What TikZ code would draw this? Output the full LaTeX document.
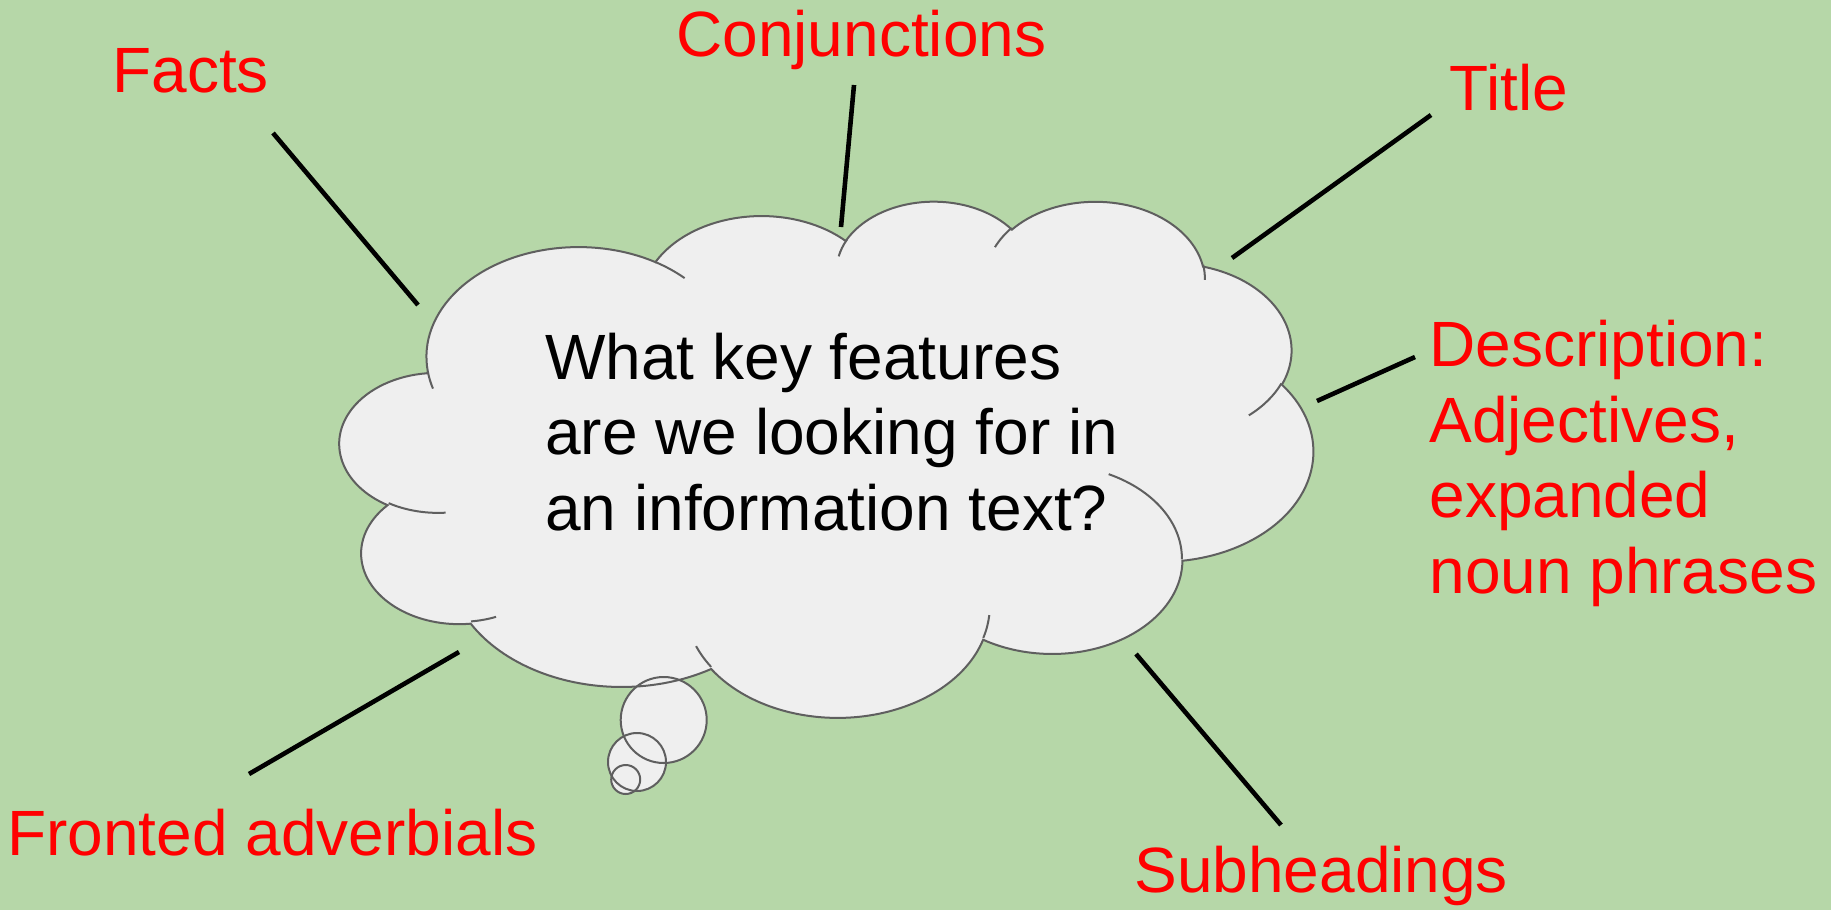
\documentclass[tikz,border=0pt]{standalone}
\usepackage{fontspec}
\setmainfont{Liberation Sans}
\definecolor{slidegreen}{HTML}{B6D7A8}
\definecolor{cloudgray}{HTML}{EFEFEF}
\definecolor{cloudedge}{HTML}{5F5F5F}
\definecolor{labelred}{HTML}{FF0000}

\begin{document}
\begin{tikzpicture}[x=0.5pt,y=-0.5pt]

  \tikzstyle{label text}=[text=labelred,inner sep=0pt,anchor=base west,align=left,
                          font=\fontsize{32}{37.75}\selectfont]
  \tikzstyle{question}=[label text,text=black]
  \tikzstyle{spoke}=[line width=2.3pt,black]
  \tikzstyle{cloud fill}=[fill=cloudgray]
  \tikzstyle{cloud edge}=[draw=cloudedge,line width=1pt]

  \useasboundingbox (0,0) rectangle (1831,910);
  \fill[slidegreen] (0,0) rectangle (1831,910);

  % outline of the cloud, lobe by lobe
  \def\cloudline{}
  \foreach \wr/\hr/\st/\sw in {6.753/9.190/-190.4875/123.7805,
      5.333/7.267/-144.1024/89.9452, 4.365/5.945/-145.8079/99.7230,
      4.857/6.595/-130.9861/117.2417, 5.333/7.273/-78.7089/109.0269,
      6.775/9.220/-46.2673/130.2690, 5.785/7.867/0.6250/114.0333,
      6.752/9.215/22.4516/115.1726, 7.720/10.543/66.2426/75.7110,
      4.360/5.918/-274.9421/146.7356, 4.345/5.945/-246.8285/152.5189}{
    \pgfmathsetmacro\anga{atan2(\wr*sin(\st),\hr*cos(\st))}
    \pgfmathsetmacro\angb{atan2(\wr*sin(\st+\sw),\hr*cos(\st+\sw))}
    \pgfmathsetmacro\swp{\angb-\anga-\sw}
    \pgfmathsetmacro\swp{\sw+\swp-360*round(\swp/360)}
    \xdef\cloudline{\cloudline arc[x radius=\wr,y radius=\hr,start angle=\anga,delta angle=\swp]}
  }

  % little inner arcs where the lobes meet
  \def\seamline{}
  \foreach \px/\py/\wr/\hr/\st/\sw in {4.693/26.177/4.345/5.945/86.7420/26.4295,
      6.928/34.899/4.360/5.918/73.6105/11.4475, 16.478/39.090/6.752/9.215/137.6242/14.0811,
      28.827/34.751/6.752/9.215/6.4533/15.9984, 34.129/22.954/5.785/7.867/-70.2924/70.9174,
      41.798/15.354/5.333/7.273/30.3180/27.7515, 38.324/5.426/4.857/6.595/-13.7443/14.8589,
      29.078/3.952/4.857/6.595/-149.1815/18.1954, 22.141/4.720/4.365/5.945/-163.4943/17.6864,
      14.000/5.192/6.753/9.190/-66.7070/12.3194, 4.127/15.789/6.753/9.190/157.6544/11.8582}{
    \pgfmathsetmacro\anga{atan2(\wr*sin(\st),\hr*cos(\st))}
    \pgfmathsetmacro\angb{atan2(\wr*sin(\st+\sw),\hr*cos(\st+\sw))}
    \pgfmathsetmacro\swp{\angb-\anga-\sw}
    \pgfmathsetmacro\swp{\sw+\swp-360*round(\swp/360)}
    \xdef\seamline{\seamline (\px,\py) arc[x radius=\wr,y radius=\hr,start angle=\anga,delta angle=\swp]}
  }

  % fill everything first, then stroke, so all outlines show
  \begin{scope}[shift={(340,200)},x=11.2616pt,y=-5.9722pt]
    \path[cloud fill] (3.9,14.37) \cloudline -- cycle;
  \end{scope}
  \path[cloud fill] (663.7,720) circle[radius=43];
  \path[cloud fill] (637,762) circle[radius=29];
  \path[cloud fill] (625.7,779.5) circle[radius=14.5];

  \begin{scope}[shift={(340,200)},x=11.2616pt,y=-5.9722pt]
    \path[cloud edge] (3.9,14.37) \cloudline -- cycle;
    \path[cloud edge] \seamline;
  \end{scope}

  % thought bubbles
  \path[cloud edge] (663.7,720) circle[radius=43];
  \path[cloud edge] (637,762) circle[radius=29];
  \path[cloud edge] (625.7,779.5) circle[radius=14.5];

  % multi-line nodes sit on the baseline of their last line
  \node[question] (ask) at (545,530) {What key features\\are we looking for in\\an information text?};

  \node[label text] (facts) at (112,92) {Facts};
  \node[label text] (conj) at (676,56) {Conjunctions};
  \node[label text] (title) at (1449,110) {Title};
  \node[label text] (descr) at (1429,593) {Description:\\Adjectives,\\expanded\\noun phrases};
  \node[label text] (fronted) at (7,855) {Fronted adverbials};
  \node[label text] (subhead) at (1134,892) {Subheadings};

  \coordinate (facts-a) at (273,133);    \coordinate (facts-b) at (418,305);
  \coordinate (conj-a) at (854,85);      \coordinate (conj-b) at (841,227);
  \coordinate (title-a) at (1431,115);   \coordinate (title-b) at (1232,258);
  \coordinate (descr-a) at (1415,357);   \coordinate (descr-b) at (1317,401);
  \coordinate (fronted-a) at (459,652);  \coordinate (fronted-b) at (249,774);
  \coordinate (subhead-a) at (1136,654); \coordinate (subhead-b) at (1281,825);

  \draw[spoke] (facts-a) -- (facts-b);
  \draw[spoke] (conj-a) -- (conj-b);
  \draw[spoke] (title-a) -- (title-b);
  \draw[spoke] (descr-a) -- (descr-b);
  \draw[spoke] (fronted-a) -- (fronted-b);
  \draw[spoke] (subhead-a) -- (subhead-b);

\end{tikzpicture}
\end{document}
